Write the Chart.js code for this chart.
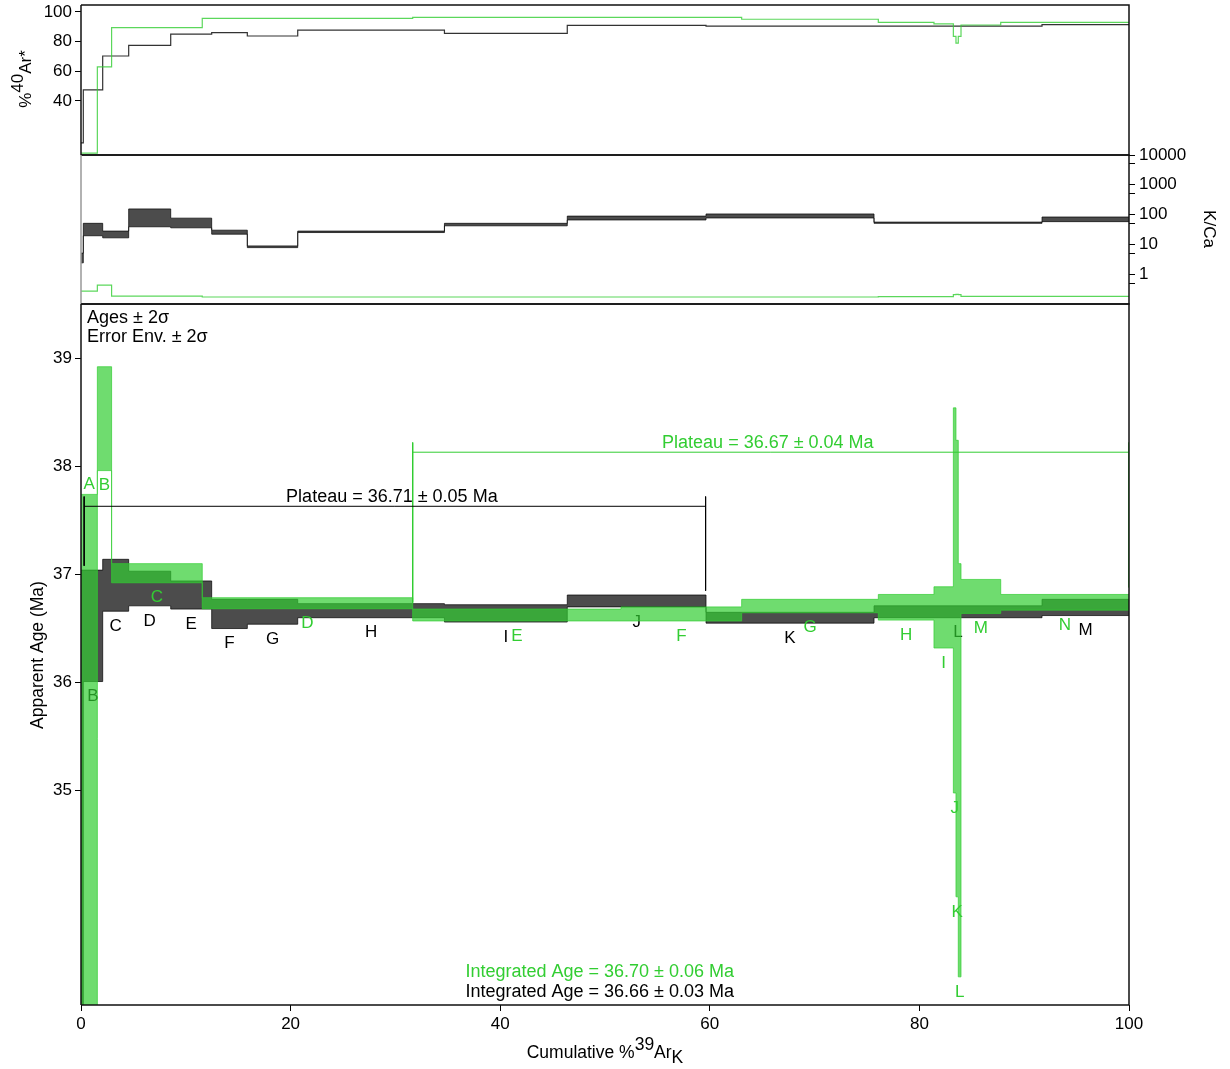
<!DOCTYPE html>
<html>
<head>
<meta charset="utf-8">
<script src="https://cdn.jsdelivr.net/npm/chart.js@4.4.0/dist/chart.umd.min.js"></script>
<style>
  body { margin: 0; background: #fff; }
  #wrap { position: relative; width: 1230px; height: 1069px; }
  canvas { position: absolute; left: 0; }
</style>
</head>
<body>
<div id="wrap">
  <canvas id="arChart" width="1230" height="165" style="top:0px"></canvas>
  <canvas id="kcaChart" width="1230" height="170" style="top:140px"></canvas>
  <canvas id="ageChart" width="1230" height="779" style="top:290px"></canvas>
</div>
<script>
// black sample (steps A-M), cumulative %39Ar edges
const stepsBlack = ['A', 'B', 'C', 'D', 'E', 'F', 'G', 'H', 'I', 'J', 'K', 'L', 'M'];
const edgesBlack = [0, 0.22, 2.07, 4.55, 8.56, 12.47, 15.87, 20.68, 34.68, 46.40, 59.64, 75.67, 91.70, 100];
const ageHiBlack = [37.04, 37.04, 37.14, 37.03, 36.94, 36.77, 36.77, 36.73, 36.72, 36.81, 36.65, 36.71, 36.77];
const ageLoBlack = [31.0, 36.01, 36.66, 36.71, 36.68, 36.50, 36.54, 36.60, 36.56, 36.70, 36.55, 36.60, 36.62];
const radBlack = [11.7, 47.4, 70.3, 77.5, 85.0, 86.0, 83.8, 87.8, 85.6, 91.0, 90.5, 90.5, 91.5];
const kcaHiBlack = [5.1, 51, 28, 155, 76, 30, 8.9, 28, 51, 89, 105, 56, 83];
const kcaLoBlack = [2.4, 19.5, 16.6, 39, 36, 22, 7.8, 25, 42, 66, 77, 51, 58];

// green sample (steps A-N)
const stepsGreen = ['A', 'B', 'C', 'D', 'E', 'F', 'G', 'H', 'I', 'J', 'K', 'L', 'M', 'N'];
const edgesGreen = [0, 1.56, 2.92, 11.57, 31.65, 51.53, 63.04, 76.08, 81.39, 83.24, 83.49, 83.71, 83.97, 87.76, 100];
const ageHiGreen = [37.74, 38.92, 37.10, 36.785, 36.68, 36.70, 36.77, 36.815, 36.886, 38.54, 38.24, 37.10, 36.954, 36.815];
const ageLoGreen = [32.0, 37.96, 36.923, 36.683, 36.57, 36.57, 36.646, 36.578, 36.32, 34.98, 34.02, 33.28, 36.64, 36.67];
const radGreen = [4.7, 62.9, 89.4, 95.7, 96.4, 96.4, 95.1, 93.0, 91.9, 83.5, 79.0, 83.5, 91.2, 93.0];
const kcaGreen = [0.27, 0.43, 0.185, 0.172, 0.172, 0.172, 0.172, 0.176, 0.176, 0.205, 0.21, 0.205, 0.18, 0.18];

// plateau brackets
const plateauBlackX = [0.3, 59.6];
const plateauBlackAge = 37.63;
const plateauBlackTickTop = 37.72;
const plateauBlackTickEnds = [37.08, 36.85];
const plateauBlackText = 'Plateau = 36.71 ± 0.05 Ma';
const plateauGreenX = [31.65, 100];
const plateauGreenAge = 38.13;
const plateauGreenTickTop = 38.22;
const plateauGreenTickEnds = [36.74, 36.88];
const plateauGreenText = 'Plateau = 36.67 ± 0.04 Ma';
const integratedGreenText = 'Integrated Age = 36.70 ± 0.06 Ma';
const integratedBlackText = 'Integrated Age = 36.66 ± 0.03 Ma';

// axis ticks
const xTicks = [0, 20, 40, 60, 80, 100];
const radTicks = [40, 60, 80, 100];
const kcaTicks = [0.5, 1, 5, 10, 50, 100, 500, 1000, 5000, 10000];
const kcaLabelled = [1, 10, 100, 1000, 10000];
const ageTicks = [35, 36, 37, 38, 39];

const FONT = 'Liberation Sans, Arial, sans-serif';
const BLACK_FILL = 'rgba(0,0,0,0.7)';
const GREEN_FILL = 'rgba(50,205,50,0.7)';
const GREEN = 'rgb(50,205,50)';

Chart.defaults.font.family = FONT;
Chart.defaults.color = '#000';

function stepPoints(edges, vals) {
  const pts = vals.map((v, i) => ({ x: edges[i], y: v }));
  pts.push({ x: edges[edges.length - 1], y: vals[vals.length - 1] });
  return pts;
}

// higher "order" is painted first (underneath)
function stepLine(data, color, width, order, fill, bg) {
  return {
    data: data,
    stepped: 'before',
    borderColor: color,
    borderWidth: width,
    pointRadius: 0,
    order: order,
    fill: fill || false,
    backgroundColor: bg || 'transparent',
  };
}

function seg(points, color) {
  return { data: points, borderColor: color, borderWidth: 1, pointRadius: 0, fill: false, order: 1 };
}

function frame(leftColor) {
  return {
    id: 'frame',
    afterDatasetsDraw(chart) {
      const { ctx, chartArea: a } = chart;
      ctx.save();
      ctx.lineWidth = 1.5;
      ctx.strokeStyle = '#111';
      ctx.beginPath();
      ctx.moveTo(a.left, a.top);
      ctx.lineTo(a.right, a.top);
      ctx.lineTo(a.right, a.bottom);
      ctx.lineTo(a.left, a.bottom);
      ctx.stroke();
      ctx.strokeStyle = leftColor;
      ctx.beginPath();
      ctx.moveTo(a.left, a.top);
      ctx.lineTo(a.left, a.bottom);
      ctx.stroke();
      ctx.restore();
    },
  };
}

// keep tick labels from shrinking the plot area
function fixWidth(w) {
  return (s) => {
    s.width = w;
    s.paddingTop = 0;
    s.paddingBottom = 0;
  };
}

const xHidden = { type: 'linear', min: 0, max: 100, display: false };
const tickFont = { family: FONT, size: 17 };

// %40Ar* panel
new Chart(document.getElementById('arChart'), {
  type: 'line',
  data: {
    datasets: [
      stepLine(stepPoints(edgesBlack, radBlack), '#333', 1.2, 2),
      stepLine(stepPoints(edgesGreen, radGreen), 'rgba(50,205,50,0.8)', 1.2, 1),
    ],
  },
  options: {
    responsive: false,
    animation: false,
    layout: { padding: { left: 0, right: 101, top: 5, bottom: 10 } },
    plugins: { legend: { display: false }, tooltip: { enabled: false } },
    scales: {
      x: xHidden,
      y: {
        min: 3.5,
        max: 104.7,
        afterBuildTicks: (s) => { s.ticks = radTicks.map((v) => ({ value: v })); },
        afterFit: fixWidth(81),
        grid: { drawOnChartArea: false, tickLength: 6, color: '#000' },
        border: { display: false },
        ticks: { font: tickFont, padding: 3 },
      },
    },
  },
  plugins: [frame('#111'), {
    id: 'arTitle',
    afterDraw(chart) {
      const ctx = chart.ctx;
      ctx.save();
      ctx.font = '17px ' + FONT;
      ctx.fillStyle = '#000';
      const w1 = ctx.measureText('%').width;
      const w2 = ctx.measureText('40').width;
      const w3 = ctx.measureText('Ar*').width;
      ctx.translate(31, 79);
      ctx.rotate(-Math.PI / 2);
      let x = -(w1 + w2 + w3) / 2;
      ctx.fillText('%', x, 0);
      ctx.fillText('40', x + w1, -8);
      ctx.fillText('Ar*', x + w1 + w2, 0);
      ctx.restore();
    },
  }],
});

// K/Ca panel
new Chart(document.getElementById('kcaChart'), {
  type: 'line',
  data: {
    datasets: [
      stepLine(stepPoints(edgesBlack, kcaHiBlack), BLACK_FILL, 1, 3),
      stepLine(stepPoints(edgesBlack, kcaLoBlack), BLACK_FILL, 1, 3, '-1', BLACK_FILL),
      stepLine(stepPoints(edgesGreen, kcaGreen), 'rgba(50,205,50,0.8)', 1.2, 1),
    ],
  },
  options: {
    responsive: false,
    animation: false,
    layout: { padding: { left: 81, right: 0, top: 15, bottom: 6 } },
    plugins: { legend: { display: false }, tooltip: { enabled: false } },
    scales: {
      x: xHidden,
      y: {
        type: 'logarithmic',
        position: 'right',
        min: 0.1,
        max: 10000,
        afterBuildTicks: (s) => { s.ticks = kcaTicks.map((v) => ({ value: v })); },
        afterFit: fixWidth(101),
        grid: { drawOnChartArea: false, tickLength: 6, color: '#000' },
        border: { display: false },
        ticks: {
          font: tickFont,
          padding: 4,
          autoSkip: false,
          callback: (v) => (kcaLabelled.includes(v) ? String(v) : ''),
        },
      },
    },
  },
  plugins: [frame('#999'), {
    id: 'kcaTitle',
    afterDraw(chart) {
      const ctx = chart.ctx;
      ctx.save();
      ctx.font = '17px ' + FONT;
      ctx.fillStyle = '#000';
      ctx.textAlign = 'center';
      ctx.translate(1204, 89);
      ctx.rotate(Math.PI / 2);
      ctx.fillText('K/Ca', 0, 0);
      ctx.restore();
    },
  }],
});

// age spectrum panel
function drawStepLabels(chart, steps, edges, hi, lo, color) {
  const { ctx, scales } = chart;
  const yMin = scales.y.min;
  ctx.save();
  ctx.font = '17px ' + FONT;
  ctx.fillStyle = color;
  ctx.textAlign = 'center';
  ctx.textBaseline = 'middle';
  steps.forEach((s, i) => {
    // first black step runs off the axis, no label shown
    if (color === '#000' && i === 0) return;
    const x = scales.x.getPixelForValue((edges[i] + edges[i + 1]) / 2);
    const y = lo[i] > yMin
      ? scales.y.getPixelForValue(lo[i]) + 15
      : scales.y.getPixelForValue(hi[i]) - 10;
    ctx.fillText(s, x, y);
  });
  ctx.restore();
}

new Chart(document.getElementById('ageChart'), {
  type: 'line',
  data: {
    datasets: [
      stepLine(stepPoints(edgesBlack, ageHiBlack), BLACK_FILL, 1, 10),
      stepLine(stepPoints(edgesBlack, ageLoBlack), BLACK_FILL, 1, 10, '-1', BLACK_FILL),
      stepLine(stepPoints(edgesGreen, ageHiGreen), GREEN_FILL, 1, 5),
      stepLine(stepPoints(edgesGreen, ageLoGreen), GREEN_FILL, 1, 5, '-1', GREEN_FILL),
      seg([{ x: plateauBlackX[0], y: plateauBlackAge }, { x: plateauBlackX[1], y: plateauBlackAge }], '#000'),
      seg([{ x: plateauBlackX[0], y: plateauBlackTickTop }, { x: plateauBlackX[0], y: plateauBlackTickEnds[0] }], '#000'),
      seg([{ x: plateauBlackX[1], y: plateauBlackTickTop }, { x: plateauBlackX[1], y: plateauBlackTickEnds[1] }], '#000'),
      seg([{ x: plateauGreenX[0], y: plateauGreenAge }, { x: plateauGreenX[1], y: plateauGreenAge }], GREEN),
      seg([{ x: plateauGreenX[0], y: plateauGreenTickTop }, { x: plateauGreenX[0], y: plateauGreenTickEnds[0] }], GREEN),
      seg([{ x: plateauGreenX[1], y: plateauGreenTickTop }, { x: plateauGreenX[1], y: plateauGreenTickEnds[1] }], GREEN),
    ],
  },
  options: {
    responsive: false,
    animation: false,
    layout: { padding: { left: 0, right: 101, top: 14, bottom: 0 } },
    plugins: { legend: { display: false }, tooltip: { enabled: false } },
    scales: {
      x: {
        type: 'linear',
        min: 0,
        max: 100,
        afterBuildTicks: (s) => { s.ticks = xTicks.map((v) => ({ value: v })); },
        afterFit: (s) => { s.height = 64; },
        grid: { drawOnChartArea: false, tickLength: 6, color: '#000' },
        border: { display: false },
        ticks: { font: tickFont, padding: 3, maxRotation: 0 },
      },
      y: {
        min: 33.02,
        max: 39.5,
        afterBuildTicks: (s) => { s.ticks = ageTicks.map((v) => ({ value: v })); },
        afterFit: fixWidth(81),
        grid: { drawOnChartArea: false, tickLength: 6, color: '#000' },
        border: { display: false },
        ticks: { font: tickFont, padding: 3 },
      },
    },
  },
  plugins: [frame('#111'), {
    id: 'ageText',
    afterDatasetDraw(chart, args) {
      if (args.index === 1) drawStepLabels(chart, stepsBlack, edgesBlack, ageHiBlack, ageLoBlack, '#000');
      if (args.index === 3) drawStepLabels(chart, stepsGreen, edgesGreen, ageHiGreen, ageLoGreen, GREEN);
    },
    afterDraw(chart) {
      const { ctx, scales, chartArea: a } = chart;
      const x = scales.x;
      const y = scales.y;
      ctx.save();
      ctx.font = '18px ' + FONT;
      ctx.textBaseline = 'alphabetic';
      ctx.textAlign = 'center';
      ctx.fillStyle = '#000';
      ctx.fillText(plateauBlackText, x.getPixelForValue((plateauBlackX[0] + plateauBlackX[1]) / 2) - 3, y.getPixelForValue(plateauBlackAge) - 4);
      ctx.fillStyle = GREEN;
      ctx.fillText(plateauGreenText, x.getPixelForValue((plateauGreenX[0] + plateauGreenX[1]) / 2) - 3, y.getPixelForValue(plateauGreenAge) - 4);

      ctx.textBaseline = 'middle';
      ctx.fillStyle = GREEN;
      ctx.fillText(integratedGreenText, x.getPixelForValue(49.5), a.bottom - 33);
      ctx.fillStyle = '#000';
      ctx.fillText(integratedBlackText, x.getPixelForValue(49.5), a.bottom - 13);

      ctx.textAlign = 'left';
      ctx.fillText('Ages ± 2σ', a.left + 6, a.top + 14);
      ctx.fillText('Error Env. ± 2σ', a.left + 6, a.top + 33);

      // y title
      ctx.font = '17.5px ' + FONT;
      ctx.textAlign = 'center';
      ctx.textBaseline = 'alphabetic';
      ctx.save();
      ctx.translate(43, 365);
      ctx.rotate(-Math.PI / 2);
      ctx.fillText('Apparent Age (Ma)', 0, 0);
      ctx.restore();

      // x title with super/subscript
      ctx.textAlign = 'left';
      const p1 = 'Cumulative %';
      const w1 = ctx.measureText(p1).width;
      const w2 = ctx.measureText('39').width;
      const w3 = ctx.measureText('Ar').width;
      const w4 = ctx.measureText('K').width;
      let tx = 605 - (w1 + w2 + w3 + w4) / 2;
      const base = 768;
      ctx.fillText(p1, tx, base);
      ctx.fillText('39', tx + w1, base - 8.5);
      ctx.fillText('Ar', tx + w1 + w2, base);
      ctx.fillText('K', tx + w1 + w2 + w3, base + 5);
      ctx.restore();
    },
  }],
});
</script>
</body>
</html>
